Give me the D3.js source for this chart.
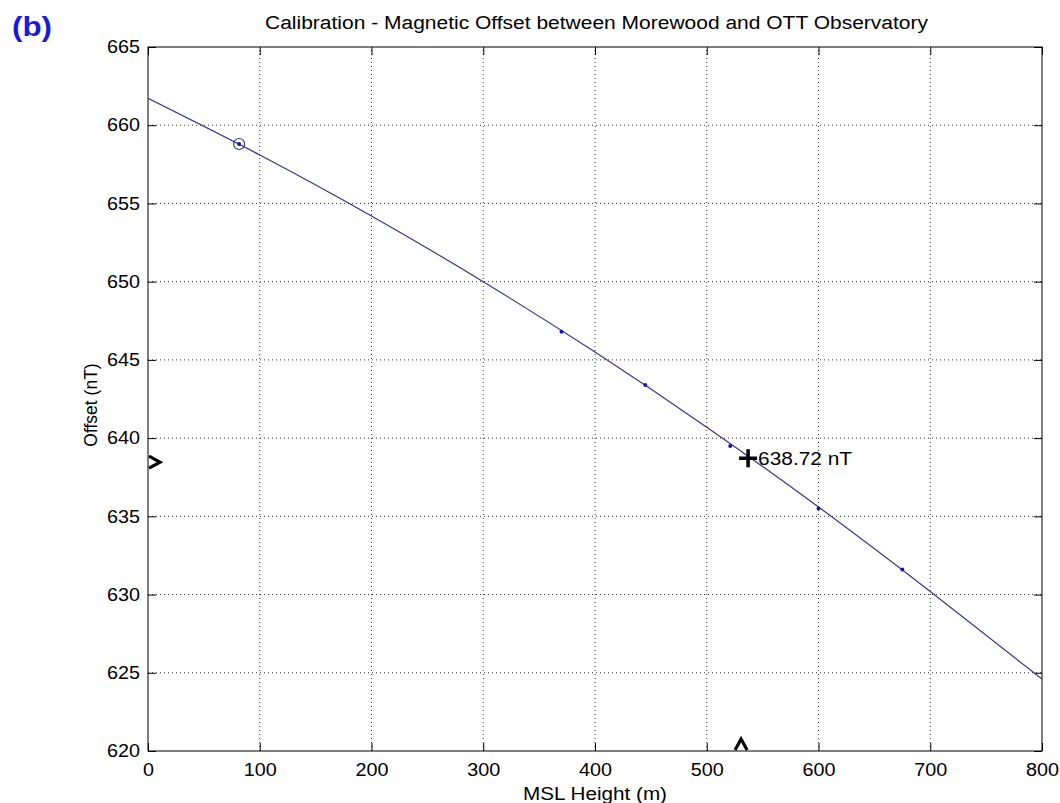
<!DOCTYPE html>
<html>
<head>
<meta charset="utf-8">
<script src="https://cdn.jsdelivr.net/npm/d3@7"></script>
<style>
  body { margin: 0; background: #fff; }
  svg { display: block; font-family: "Liberation Sans", Arial, sans-serif; }
  .grid line { stroke: #333; stroke-width: 1; stroke-dasharray: 1 3; }
</style>
</head>
<body>
<div id="chart"></div>
<script>
// fitted calibration curve, every 100 m
const curveHeights = [0, 100, 200, 300, 400, 500, 600, 700, 800];
const curveOffsets = [661.72, 658.1, 654.2, 650.0, 645.5, 640.7, 635.6, 630.2, 624.6];

// measured points
const pointHeights = [370, 445, 521, 600, 675];
const pointOffsets = [646.8, 643.4, 639.5, 635.5, 631.6];

// reference observatory (circled)
const refPoint = { height: 81.5, offset: 658.8 };

// calibration result
const result = { height: 537, offset: 638.72, label: "638.72 nT" };

const xTicks = [0, 100, 200, 300, 400, 500, 600, 700, 800];
const yTicks = [620, 625, 630, 635, 640, 645, 650, 655, 660, 665];

const width = 1060;
const height = 803;
const margin = { top: 47, right: 18, bottom: 52, left: 148 };
const innerW = width - margin.left - margin.right;
const innerH = height - margin.top - margin.bottom;

const svg = d3.select("#chart").append("svg")
    .attr("width", width)
    .attr("height", height);

const x = d3.scaleLinear().domain([0, 800]).range([margin.left, margin.left + innerW]);
const y = d3.scaleLinear().domain([620, 665]).range([margin.top + innerH, margin.top]);

// the original picture is a bit wider than tall, so glyphs get stretched sideways
const digitW = 11;

// grid
const grid = svg.append("g").attr("class", "grid");
grid.selectAll(".gx")
    .data(xTicks.slice(1, -1))
    .enter().append("line")
    .attr("x1", d => x(d)).attr("x2", d => x(d))
    .attr("y1", y(620)).attr("y2", y(665));
grid.selectAll(".gy")
    .data(yTicks.slice(1, -1))
    .enter().append("line")
    .attr("y1", d => y(d)).attr("y2", d => y(d))
    .attr("x1", x(0)).attr("x2", x(800));

// axes, MATLAB style: ticks inside on all four sides
const tickLen = 8;
svg.append("g")
    .attr("transform", `translate(0,${y(620)})`)
    .call(d3.axisBottom(x).tickValues(xTicks).tickSizeInner(-tickLen).tickSizeOuter(0).tickPadding(12))
    .call(g => g.select(".domain").remove());
svg.append("g")
    .attr("transform", `translate(0,${y(665)})`)
    .call(d3.axisTop(x).tickValues(xTicks).tickSizeInner(-tickLen).tickSizeOuter(0).tickFormat(""))
    .call(g => g.select(".domain").remove());
svg.append("g")
    .attr("transform", `translate(${x(0)},0)`)
    .call(d3.axisLeft(y).tickValues(yTicks).tickSizeInner(-tickLen).tickSizeOuter(0).tickPadding(8))
    .call(g => g.select(".domain").remove());
svg.append("g")
    .attr("transform", `translate(${x(800)},0)`)
    .call(d3.axisRight(y).tickValues(yTicks).tickSizeInner(-tickLen).tickSizeOuter(0).tickFormat(""))
    .call(g => g.select(".domain").remove());

svg.selectAll(".tick text")
    .attr("font-size", 18)
    .attr("font-family", "Liberation Sans, Arial, sans-serif")
    .attr("fill", "#000")
    .filter(function() { return this.textContent.length > 0; })
    .attr("textLength", function() { return this.textContent.length * digitW; })
    .attr("lengthAdjust", "spacingAndGlyphs");
svg.selectAll(".tick line").attr("stroke", "#000");

svg.append("rect")
    .attr("x", x(0)).attr("y", y(665))
    .attr("width", x(800) - x(0)).attr("height", y(620) - y(665))
    .attr("fill", "none").attr("stroke", "#000").attr("stroke-width", 1);

// fitted curve
svg.append("clipPath").attr("id", "clip").append("rect")
    .attr("x", x(0)).attr("y", y(665))
    .attr("width", x(800) - x(0)).attr("height", y(620) - y(665));

const line = d3.line()
    .x((d, i) => x(curveHeights[i]))
    .y(d => y(d))
    .curve(d3.curveNatural);

svg.append("path")
    .datum(curveOffsets)
    .attr("d", line)
    .attr("fill", "none")
    .attr("stroke", "#36368c")
    .attr("stroke-width", 1.2)
    .attr("clip-path", "url(#clip)");

// measured points
svg.selectAll(".pt")
    .data(pointHeights)
    .enter().append("circle")
    .attr("class", "pt")
    .attr("cx", d => x(d))
    .attr("cy", (d, i) => y(pointOffsets[i]))
    .attr("r", 2)
    .attr("fill", "#1515b5");

// circled reference point
svg.append("circle")
    .attr("cx", x(refPoint.height)).attr("cy", y(refPoint.offset))
    .attr("r", 5.5)
    .attr("fill", "none").attr("stroke", "#36368c").attr("stroke-width", 1.2);
svg.append("circle")
    .attr("cx", x(refPoint.height)).attr("cy", y(refPoint.offset))
    .attr("r", 2)
    .attr("fill", "#1515b5");

// result cross and label
const cx = x(result.height), cy = y(result.offset);
svg.append("path")
    .attr("d", `M${cx - 9},${cy}H${cx + 9}M${cx},${cy - 9}V${cy + 9}`)
    .attr("stroke", "#000").attr("stroke-width", 3.5);
svg.append("text")
    .attr("x", cx + 10).attr("y", cy + 6.5)
    .attr("font-size", 18)
    .attr("textLength", 94)
    .attr("lengthAdjust", "spacingAndGlyphs")
    .text(result.label);

// edge markers pointing at the result
const lx = x(0), ly = cy + 4;
svg.append("path")
    .attr("d", `M${lx + 1},${ly - 6}L${lx + 12},${ly}L${lx + 1},${ly + 6}`)
    .attr("fill", "none").attr("stroke", "#000").attr("stroke-width", 3.2);
const bx = cx - 7, by = y(620);
svg.append("path")
    .attr("d", `M${bx - 6},${by - 1}L${bx},${by - 12}L${bx + 6},${by - 1}`)
    .attr("fill", "none").attr("stroke", "#000").attr("stroke-width", 3.2);

// titles
svg.append("text")
    .attr("x", 265).attr("y", 29)
    .attr("font-size", 18)
    .attr("textLength", 663)
    .attr("lengthAdjust", "spacingAndGlyphs")
    .text("Calibration - Magnetic Offset between Morewood and OTT Observatory");

svg.append("text")
    .attr("x", 523).attr("y", 800)
    .attr("font-size", 18)
    .attr("textLength", 144)
    .attr("lengthAdjust", "spacingAndGlyphs")
    .text("MSL Height (m)");

svg.append("text")
    .attr("transform", `translate(97,405) rotate(-90)`)
    .attr("text-anchor", "middle")
    .attr("font-size", 17.5)
    .text("Offset (nT)");

svg.append("text")
    .attr("x", 12).attr("y", 36)
    .attr("font-size", 27)
    .attr("font-weight", "bold")
    .attr("fill", "#1a1ad8")
    .attr("textLength", 40)
    .attr("lengthAdjust", "spacingAndGlyphs")
    .text("(b)");
</script>
</body>
</html>
